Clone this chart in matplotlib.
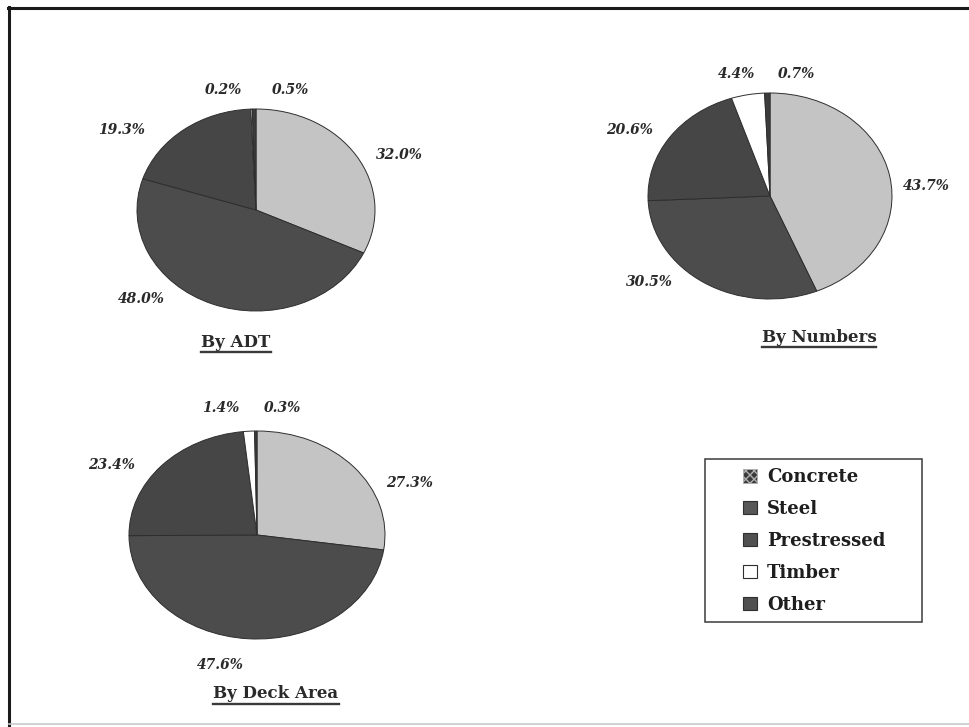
import matplotlib
matplotlib.use("Agg")
import matplotlib.pyplot as plt
from matplotlib.lines import Line2D
from matplotlib.patches import Patch, Rectangle


W, H = 969, 727

MATERIALS = ["Concrete", "Steel", "Prestressed", "Timber", "Other"]
BY_ADT = [32.0, 48.0, 19.3, 0.2, 0.5]
BY_NUMBERS = [43.7, 30.5, 20.6, 4.4, 0.7]
BY_DECK_AREA = [27.3, 47.6, 23.4, 1.4, 0.3]

WEDGE_COLORS = ["#c4c4c4", "#4c4c4c", "#464646", "#ffffff", "#3c3c3c"]
SWATCH_COLORS = ["#3a3a3a", "#575757", "#505050", "#ffffff", "#505050"]

SERIF = "DejaVu Serif"


def px_box(cx, cy, rx, ry, pad=1.02):
    # pixel-space ellipse -> figure fraction axes rect
    rx, ry = rx * pad, ry * pad
    return [(cx - rx) / W, 1 - (cy + ry) / H, 2 * rx / W, 2 * ry / H]


def fig_xy(x, y):
    return x / W, 1 - y / H


def draw_pie(fig, values, center, radii, label_pos):
    ax = fig.add_axes(px_box(center[0], center[1], radii[0], radii[1]))
    wedges, _ = ax.pie(
        values,
        colors=WEDGE_COLORS,
        startangle=90,
        counterclock=False,
        radius=1.0,
        wedgeprops={"edgecolor": "#2e2e2e", "linewidth": 0.7},
    )
    ax.set_aspect("auto")
    ax.set_xlim(-1.02, 1.02)
    ax.set_ylim(-1.02, 1.02)
    ax.axis("off")

    for v, (x, y) in zip(values, label_pos):
        fig.text(*fig_xy(x, y), f"{v:.1f}%", ha="center", va="center",
                 fontsize=10, fontfamily=SERIF, fontweight="bold",
                 fontstyle="italic", color="#2a2a2a")
    return ax


def underlined_title(fig, text, x, y):
    return fig.text(*fig_xy(x, y), text, ha="center", va="center",
                    fontsize=12, fontfamily=SERIF, fontweight="bold",
                    color="#2a2a2a")


def main():
    fig = plt.figure(figsize=(W / 100, H / 100), dpi=100)
    fig.patch.set_facecolor("white")

    draw_pie(fig, BY_ADT, (256, 210), (119, 101),
             [(399, 155), (141, 299), (122, 130), (223, 90), (290, 90)])
    draw_pie(fig, BY_NUMBERS, (770, 196), (122, 103),
             [(926, 186), (649, 282), (629, 130), (737, 74), (796, 74)])
    draw_pie(fig, BY_DECK_AREA, (257, 535), (128, 104),
             [(410, 483), (220, 665), (112, 465), (221, 408), (282, 408)])

    titles = [
        underlined_title(fig, "By ADT", 236, 343),
        underlined_title(fig, "By Numbers", 819, 338),
        underlined_title(fig, "By Deck Area", 276, 694),
    ]

    # legend
    handles = []
    for i, (name, col) in enumerate(zip(MATERIALS, SWATCH_COLORS)):
        if i == 0:
            handles.append(Patch(facecolor=col, edgecolor="#b0b0b0", hatch="xxxx",
                                 linewidth=0.6, label=name))
        else:
            handles.append(Patch(facecolor=col, edgecolor="#2e2e2e",
                                 linewidth=0.8, label=name))
    fig.legend(
        handles=handles,
        loc="upper left",
        bbox_to_anchor=fig_xy(743, 468),
        frameon=False,
        borderpad=0,
        borderaxespad=0,
        handlelength=0.78,
        handleheight=0.78,
        handletextpad=0.55,
        labelspacing=0.77,
        prop={"family": SERIF, "weight": "bold", "size": 13},
        labelcolor="#1e1e1e",
    )
    x0, y0 = fig_xy(705, 622)
    x1, y1 = fig_xy(922, 459)
    fig.add_artist(Rectangle((x0, y0), x1 - x0, y1 - y0, transform=fig.transFigure,
                             facecolor="none", edgecolor="#3a3a3a", linewidth=1.1))

    # underline the pie titles
    fig.canvas.draw()
    renderer = fig.canvas.get_renderer()
    for t in titles:
        bb = t.get_window_extent(renderer)
        yl = (bb.y0 - 1) / H
        fig.add_artist(Line2D([bb.x0 / W, bb.x1 / W], [yl, yl], transform=fig.transFigure,
                              color="#3a3a3a", linewidth=1.7))

    # page frame
    fig.add_artist(Line2D([9 / W, 9 / W], [0, 1 - 7 / H], transform=fig.transFigure,
                          color="#1a1a1a", linewidth=2.2))
    fig.add_artist(Line2D([8 / W, 1], [1 - 8 / H, 1 - 8 / H], transform=fig.transFigure,
                          color="#1a1a1a", linewidth=2.2))
    fig.add_artist(Line2D([9 / W, 1], [1 - 724 / H, 1 - 724 / H], transform=fig.transFigure,
                          color="#c8c8c8", linewidth=1.2))

    fig.savefig("out.png", dpi=100)


if __name__ == "__main__":
    main()
